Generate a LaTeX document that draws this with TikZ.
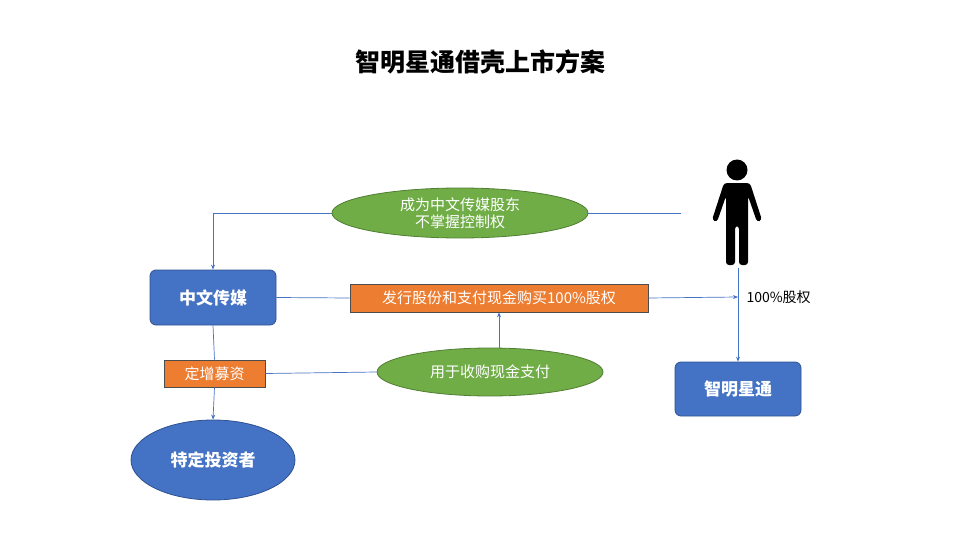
\documentclass[tikz,border=0pt]{standalone}
\usepackage{fontspec}
\setmainfont{Noto Sans CJK SC}
\usetikzlibrary{shapes.geometric,arrows.meta}
\definecolor{bl}{HTML}{4472C4}
\definecolor{bd}{HTML}{2F528F}
\definecolor{og}{HTML}{ED7D31}
\definecolor{gr}{HTML}{70AD47}
\definecolor{gd}{HTML}{507E32}
\definecolor{ln}{HTML}{4472C4}
\begin{document}
\begin{tikzpicture}[x=1pt,y=-1pt,
 bbox/.style={draw=bd,fill=bl,rounded corners=6pt,text=white,font=\bfseries\fontsize{17}{20}\selectfont,inner sep=0,line width=0.8pt},
 obox/.style={draw=black!70,fill=og,text=white,font=\fontsize{15}{18}\selectfont,inner sep=0,line width=0.6pt},
 gell/.style={ellipse,draw=gd,fill=gr,text=white,font=\fontsize{15}{17}\selectfont,inner sep=0,line width=0.8pt,align=center},
 con/.style={draw=ln,line width=0.7pt},
 arr/.style={con,-{Stealth[length=5pt,width=4pt]}}]
\useasboundingbox (0,0) rectangle (960,540);
\node[font=\bfseries\fontsize{25}{30}\selectfont] (title) at (480,62) {智明星通借壳上市方案};
\node[bbox,minimum width=126pt,minimum height=55pt] (zw) at (213,297.5) {中文传媒};
\node[obox,minimum width=101pt,minimum height=27pt] (dz) at (214.5,373.5) {定增募资};
\node[ellipse,draw=bd,fill=bl,text=white,font=\bfseries\fontsize{17}{20}\selectfont,minimum width=164pt,minimum height=80pt,inner sep=0,line width=0.8pt] (td) at (213,460) {特定投资者};
\node[gell,minimum width=256pt,minimum height=50pt] (e1) at (460,213) {成为中文传媒股东\\不掌握控制权};
\node[obox,minimum width=298pt,minimum height=28pt] (fx) at (499,298) {发行股份和支付现金购买100\%股权};
\node[gell,minimum width=226pt,minimum height=48pt] (e2) at (490,372) {用于收购现金支付};
\node[bbox,minimum width=126pt,minimum height=54pt] (zm) at (738,389) {智明星通};
\node[anchor=west,font=\fontsize{14}{16}\selectfont] (pct) at (743,297) {100\%股权};
% person
\fill (737,170) circle (10.5);
\fill[rounded corners=3pt] (724,183) -- (750,183) -- (762,220) -- (757,222) -- (748,196) -- (748,265) -- (739,265) -- (739,226) -- (735,226) -- (735,265) -- (726,265) -- (726,196) -- (717,222) -- (712,220) -- cycle;
\coordinate (pr) at (681,213);
\coordinate (pb) at (738,268);
\coordinate (pm) at (738,297);
% connectors
\draw[con] (pr) -- (e1.east);
\draw[arr] (e1.west) -| (zw.north);
\draw[con] (zw.east) -- (fx.west);
\draw[arr] (fx.east) -- (pm);
\draw[arr] (pb) -- (zm.north);
\draw[con] (zw.south) -- (dz.north);
\draw[arr] (dz.south) -- (td.north);
\draw[con] (dz.east) -- (e2.west);
\draw[arr] (e2.north -| fx.south) -- (fx.south);
\end{tikzpicture}
\end{document}
